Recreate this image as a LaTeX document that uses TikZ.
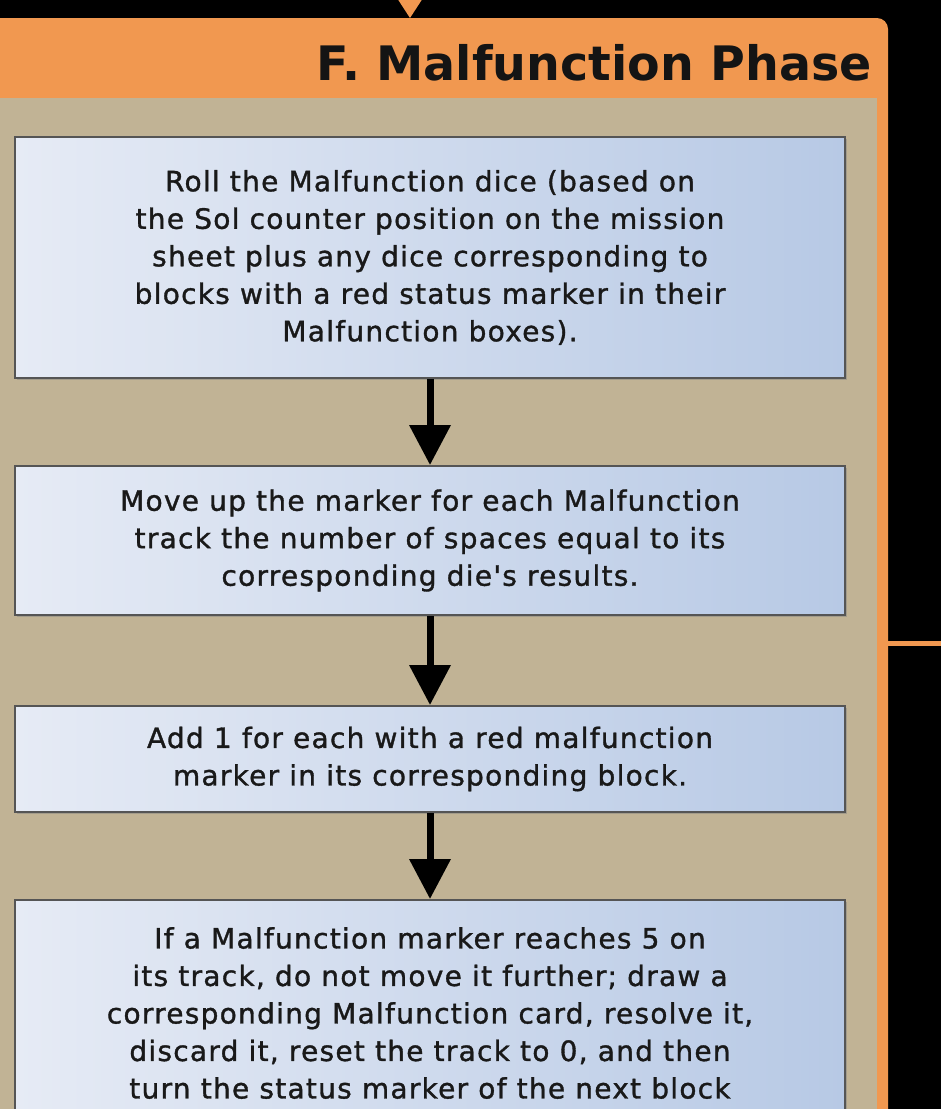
\documentclass[tikz,border=0pt]{standalone}
\usepackage{fontspec}
\setmainfont{DejaVu Sans}
\newfontfamily\bodyfont{DejaVu Sans}[LetterSpace=4.5,FakeBold=1.2]
\newfontfamily\titlefont{DejaVu Sans}
\usetikzlibrary{arrows.meta,shadows}
\definecolor{panelorange}{RGB}{241,152,80}
\definecolor{paneltan}{RGB}{193,179,149}
\definecolor{boxleft}{RGB}{230,235,245}
\definecolor{boxright}{RGB}{183,201,229}
\definecolor{boxborder}{RGB}{85,85,85}
\tikzset{
  stepbox/.style={draw=boxborder, line width=2pt, left color=boxleft, right color=boxright,
    drop shadow={shadow xshift=2pt, shadow yshift=-2pt, opacity=0.45},
    inner sep=0pt, align=center, text=black!90,
    font=\bodyfont\fontsize{28}{37.5}\selectfont},
  bodytext/.style={align=center, text=black!90, inner sep=0pt,
    font=\bodyfont\fontsize{28}{37.5}\selectfont},
  flowarrow/.style={line width=7pt, black, -{Triangle[width=40pt,length=40pt]}},
}
\begin{document}
\begin{tikzpicture}[x=1pt,y=-1pt]
\useasboundingbox (0,0) rectangle (941,1109);
\begin{scope}
\clip (0,0) rectangle (941,1109);
\fill[black] (0,0) rectangle (941,1109);
% panel
\fill[panelorange, rounded corners=11pt] (-40,18) rectangle (888,1200);
\fill[paneltan] (-40,98) rectangle (877,1200);
% incoming arrow head at top
\coordinate (intip) at (410,18);
\fill[panelorange] (397,-2) -- (423,-2) -- (intip) -- cycle;
% outgoing line on the right
\coordinate (outstart) at (886,643);
\coordinate (outend) at (945,643);
\draw[panelorange, line width=5pt] (outstart) -- (outend);
% title
\node[anchor=base east, inner sep=0pt, font=\titlefont\bfseries\fontsize{47.5}{50}\selectfont, text=black!92] (title) at (872,80) {F. Malfunction Phase};
% boxes
\node[stepbox, minimum width=830pt, minimum height=241pt] (b1) at (430,257.5)
  {Roll the Malfunction dice (based on\\
   the Sol counter position on the mission\\
   sheet plus any dice corresponding to\\
   blocks with a red status marker in their\\
   Malfunction boxes).};
\node[stepbox, minimum width=830pt, minimum height=149pt] (b2) at (430,540.5)
  {Move up the marker for each Malfunction\\
   track the number of spaces equal to its\\
   corresponding die's results.};
\node[stepbox, minimum width=830pt, minimum height=106pt] (b3) at (430,759)
  {Add 1 for each with a red malfunction\\
   marker in its corresponding block.};
\node[stepbox, minimum width=830pt, minimum height=300pt] (b4) at (430,1050) {};
\node[bodytext, anchor=north] (t4) at (430,927)
  {If a Malfunction marker reaches 5 on\\
   its track, do not move it further; draw a\\
   corresponding Malfunction card, resolve it,\\
   discard it, reset the track to 0, and then\\
   turn the status marker of the next block};
% arrows
\draw[flowarrow] (b1.south) -- (b2.north);
\draw[flowarrow] (b2.south) -- (b3.north);
\draw[flowarrow] (b3.south) -- (b4.north);
\end{scope}
\end{tikzpicture}
\end{document}
